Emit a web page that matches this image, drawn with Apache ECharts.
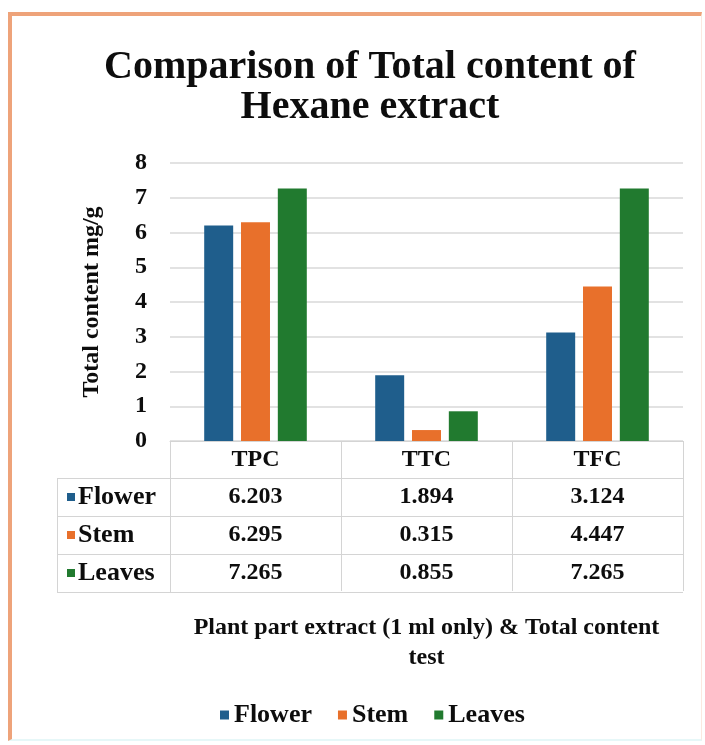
<!DOCTYPE html>
<html>
<head>
<meta charset="utf-8">
<script src="https://cdn.jsdelivr.net/npm/echarts@6/dist/echarts.min.js"></script>
<style>
  html, body { margin: 0; padding: 0; background: #ffffff; }
  #frame {
    position: absolute; left: 0; top: 0; width: 705px; height: 745px;
    box-sizing: border-box;
  }
  #border {
    position: absolute; left: 8px; top: 12px; width: 694px; height: 729px;
    box-sizing: border-box;
    border-left: 4px solid #eea37a;
    border-top: 4px solid #eea37a;
    border-right: 1px solid #fbe9e0;
    border-bottom: 2px solid #e6f7f8;
    pointer-events: none;
  }
  #chart { position: absolute; left: 0; top: 0; width: 705px; height: 745px; }
</style>
</head>
<body>
<div id="frame">
  <div id="chart"></div>
  <div id="border"></div>
</div>
<script>
// Total content (mg/g) of hexane extracts per plant part and test
const categories = ['TPC', 'TTC', 'TFC'];
const seriesNames = ['Flower', 'Stem', 'Leaves'];
const flowerValues = [6.203, 1.894, 3.124];
const stemValues = [6.295, 0.315, 4.447];
const leavesValues = [7.265, 0.855, 7.265];
const yTicks = [0, 1, 2, 3, 4, 5, 6, 7, 8];

const seriesValues = [flowerValues, stemValues, leavesValues];
const colors = ['#1f5e8c', '#e8702b', '#217a2f'];
const FONT = "'Liberation Serif', 'Times New Roman', serif";
const TEXT = '#0d0d0d';
const TABLE_LINE = '#d4d4d4';

// data table geometry (header row, then one row per series)
const headerRowH = 36;
const rowH = 38;
const tableLeft = 57;

const chart = echarts.init(document.getElementById('chart'), null, { renderer: 'canvas' });

function columnLabel(value, index) {
  const lines = ['{h|' + value + '}'];
  seriesValues.forEach(function (vals) {
    lines.push('{v|' + vals[index].toFixed(3) + '}');
  });
  return lines.join('\n');
}

const option = {
  backgroundColor: '#ffffff',
  animation: false,
  color: colors,
  title: {
    text: 'Comparison of Total content of\nHexane extract',
    left: 365,
    top: 43,
    textAlign: 'center',
    textStyle: {
      fontFamily: FONT, fontWeight: 'bold', fontSize: 40, lineHeight: 40, color: TEXT
    }
  },
  legend: {
    data: seriesNames,
    left: 215,
    top: 697,
    icon: 'rect',
    itemWidth: 9,
    itemHeight: 9,
    itemGap: 26,
    textStyle: { fontFamily: FONT, fontWeight: 'bold', fontSize: 26, color: TEXT }
  },
  grid: { left: 170, right: 22, top: 163, bottom: 304 },
  xAxis: {
    type: 'category',
    data: categories,
    boundaryGap: true,
    axisLine: { show: true, lineStyle: { color: TABLE_LINE, width: 1 } },
    axisTick: {
      show: true, inside: false, length: headerRowH + rowH * seriesNames.length,
      lineStyle: { color: TABLE_LINE, width: 1 }
    },
    axisLabel: {
      interval: 0,
      margin: 1,
      formatter: columnLabel,
      rich: {
        h: { fontFamily: FONT, fontWeight: 'bold', fontSize: 24, lineHeight: headerRowH, color: TEXT },
        v: { fontFamily: FONT, fontWeight: 'bold', fontSize: 24, lineHeight: rowH, color: TEXT }
      }
    },
    name: 'Plant part extract (1 ml only) & Total content\ntest',
    nameLocation: 'middle',
    nameGap: 172,
    nameTextStyle: {
      fontFamily: FONT, fontWeight: 'bold', fontSize: 24, lineHeight: 30, color: TEXT,
      verticalAlign: 'top'
    }
  },
  yAxis: {
    type: 'value',
    min: yTicks[0],
    max: yTicks[yTicks.length - 1],
    interval: 1,
    axisLine: { show: false },
    axisTick: { show: false },
    splitLine: { lineStyle: { color: '#d9d9d9', width: 1.5 } },
    axisLabel: {
      margin: 23,
      fontFamily: FONT, fontWeight: 'bold', fontSize: 24, color: TEXT
    },
    name: 'Total content mg/g',
    nameLocation: 'middle',
    nameGap: 66,
    nameTextStyle: { fontFamily: FONT, fontWeight: 'bold', fontSize: 24, color: TEXT }
  },
  series: seriesNames.map(function (name, i) {
    return {
      name: name,
      type: 'bar',
      data: seriesValues[i],
      barCategoryGap: '40%',
      barGap: '27%',
      itemStyle: { color: colors[i] }
    };
  })
};

chart.setOption(option);

// Row headers and horizontal rules of the data table, placed from the axes
function drawTable() {
  const axisY = chart.convertToPixel({ yAxisIndex: 0 }, 0);
  const firstCenter = chart.convertToPixel({ xAxisIndex: 0 }, categories[0]);
  const lastCenter = chart.convertToPixel({ xAxisIndex: 0 }, categories[categories.length - 1]);
  const band = (lastCenter - firstCenter) / (categories.length - 1);
  const plotLeft = firstCenter - band / 2;
  const plotRight = lastCenter + band / 2;
  const headerBottom = Math.round(axisY) + headerRowH + 1;

  const elements = [];
  for (let r = 0; r <= seriesNames.length; r++) {
    const y = headerBottom + r * rowH + 0.5;
    elements.push({
      type: 'line',
      shape: { x1: tableLeft, y1: y, x2: plotRight, y2: y },
      style: { stroke: TABLE_LINE, lineWidth: 1 },
      silent: true
    });
  }
  elements.push({
    type: 'line',
    shape: { x1: tableLeft + 0.5, y1: headerBottom, x2: tableLeft + 0.5, y2: headerBottom + rowH * seriesNames.length },
    style: { stroke: TABLE_LINE, lineWidth: 1 },
    silent: true
  });
  elements.push({
    type: 'line',
    shape: { x1: Math.round(plotLeft) + 0.5, y1: headerBottom, x2: Math.round(plotLeft) + 0.5, y2: headerBottom + rowH * seriesNames.length },
    style: { stroke: TABLE_LINE, lineWidth: 1 },
    silent: true
  });
  seriesNames.forEach(function (name, r) {
    const cy = headerBottom + r * rowH + rowH / 2;
    elements.push({
      type: 'rect',
      shape: { x: tableLeft + 10, y: cy - 4, width: 8, height: 8 },
      style: { fill: colors[r] },
      silent: true
    });
    elements.push({
      type: 'text',
      x: tableLeft + 21,
      y: cy,
      style: {
        text: name,
        fontFamily: FONT, fontWeight: 'bold', fontSize: 26, fill: TEXT,
        verticalAlign: 'middle', align: 'left'
      },
      silent: true
    });
  });
  chart.setOption({ graphic: { elements: elements } });
}
drawTable();
</script>
</body>
</html>
